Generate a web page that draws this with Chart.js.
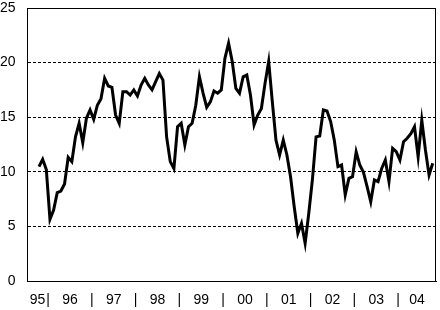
<!DOCTYPE html>
<html>
<head>
<meta charset="utf-8">
<script src="https://cdn.jsdelivr.net/npm/chart.js@4/dist/chart.umd.min.js"></script>
<style>
html,body{margin:0;padding:0;background:#fff;}
#wrap{width:440px;height:310px;}
canvas{display:block;}
</style>
</head>
<body>
<div id="wrap"><canvas id="c" width="440" height="310"></canvas></div>
<script>
// First observation: October 1995, monthly through October 2004
const firstYear = 1995;
const firstMonth = 10;

const values = [
  10.47, 11.14, 10.2, 5.65, 6.5, 8.1, 8.24, 8.88, 11.33, 10.93,
  13.2, 14.44, 12.67, 14.9, 15.66, 14.8, 16.1, 16.7, 18.56, 17.86,
  17.74, 15.2, 14.44, 17.34, 17.34, 17.03, 17.5, 16.94, 17.95, 18.56,
  17.95, 17.5, 18.25, 19.0, 18.4, 13.2, 10.93, 10.3, 14.13, 14.44,
  12.45, 14.13, 14.44, 16.1, 18.7, 17.2, 15.9, 16.4, 17.4, 17.2,
  17.5, 20.4, 21.77, 20.1, 17.64, 17.2, 18.7, 18.86, 17.03, 14.29,
  15.2, 15.8, 18.1, 20.1, 16.4, 12.9, 11.54, 12.9, 11.54, 9.55,
  6.8, 4.37, 5.28, 3.45, 6.2, 9.3, 13.2, 13.28, 15.66, 15.57,
  14.6, 12.9, 10.47, 10.62, 7.88, 9.4, 9.55, 11.84, 10.62, 9.95,
  8.64, 7.26, 9.25, 9.1, 10.3, 11.08, 9.1, 12.15, 11.84, 11.08,
  12.76, 13.07, 13.5, 14.13, 11.38, 14.74, 12.0, 9.7, 10.78
];

const yearLabels = ['95','96','97','98','99','00','01','02','03','04'];
const yTickValues = [0, 5, 10, 15, 20, 25];

// x axis in months since Jan 1995 (points at mid-month)
const xMin = 6.2, xMax = 118.4;
const points = values.map((v, i) => ({ x: (firstMonth - 1) + i + 0.5, y: v }));

// tick layout: year labels at centre of visible part of each year, '|' at year boundaries
const tickLabelMap = new Map();
const xTicks = [];
yearLabels.forEach((lab, k) => {
  const s = Math.max(k * 12, xMin), e = Math.min((k + 1) * 12, xMax);
  const c = (s + e) / 2;
  xTicks.push(c); tickLabelMap.set(c, lab);
  if (k > 0) { xTicks.push(k * 12); tickLabelMap.set(k * 12, '|'); }
});
xTicks.sort((a, b) => a - b);

const framePlugin = {
  id: 'frame',
  afterDraw(chart) {
    const { ctx, chartArea: a } = chart;
    ctx.save();
    ctx.strokeStyle = '#000';
    ctx.lineWidth = 1;
    ctx.setLineDash([]);
    const t = Math.round(a.top) + 0.5;
    const r = Math.round(a.right) - 0.5;
    ctx.beginPath();
    ctx.moveTo(Math.round(a.left), t);
    ctx.lineTo(r, t);
    ctx.lineTo(r, Math.round(a.bottom));
    ctx.stroke();
    ctx.restore();
  }
};

const font = { family: '"Liberation Sans", Arial, sans-serif', size: 14 };

new Chart(document.getElementById('c'), {
  type: 'line',
  data: {
    datasets: [{
      data: points,
      borderColor: '#000',
      borderWidth: 3,
      pointRadius: 0,
      tension: 0,
      fill: false,
      borderJoinStyle: 'miter'
    }]
  },
  options: {
    responsive: false,
    devicePixelRatio: 1,
    animation: false,
    events: [],
    layout: { padding: { left: 0, right: 4, top: 8, bottom: 0 } },
    plugins: { legend: { display: false }, tooltip: { enabled: false } },
    scales: {
      x: {
        type: 'linear',
        min: xMin,
        max: xMax,
        afterBuildTicks(axis) { axis.ticks = xTicks.map(v => ({ value: v })); },
        afterFit(axis) { axis.height = 29; axis.paddingLeft = 0; axis.paddingRight = 0; },
        ticks: {
          autoSkip: false,
          maxRotation: 0,
          minRotation: 0,
          padding: 11,
          color: '#000',
          font: font,
          callback: (v) => tickLabelMap.get(v) ?? ''
        },
        grid: { display: false, drawTicks: false },
        border: { display: true, color: '#000', width: 1 }
      },
      y: {
        min: 0,
        max: 25,
        afterBuildTicks(axis) { axis.ticks = yTickValues.map(v => ({ value: v })); },
        afterFit(axis) { axis.width = 27; axis.paddingTop = 0; axis.paddingBottom = 0; },
        ticks: { padding: 11.5, color: '#000', font: font },
        grid: { display: true, color: '#000', lineWidth: 1, drawTicks: false },
        border: { display: true, color: '#000', width: 1, dash: [3, 2] }
      }
    }
  },
  plugins: [framePlugin]
});
</script>
</body>
</html>
